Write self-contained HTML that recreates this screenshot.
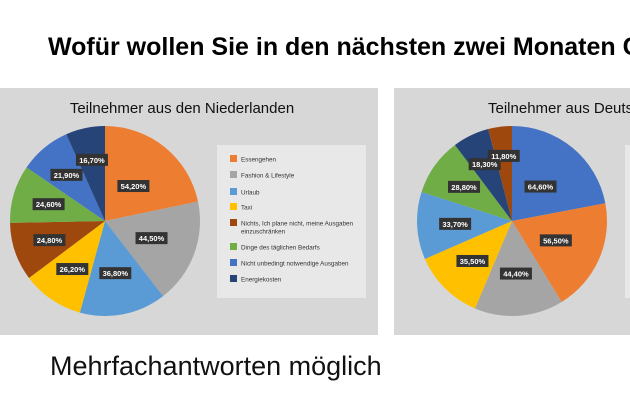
<!DOCTYPE html>
<html><head><meta charset="utf-8"><style>
body{margin:0;background:#fff;}
svg{display:block;font-family:"Liberation Sans",sans-serif;}
</style></head><body>
<svg id="s" width="630" height="412" viewBox="0 0 630 412">
<text x="48" y="55" font-size="25" font-weight="bold" fill="#000">Wofür wollen Sie in den nächsten zwei Monaten Geld ausgeben?</text>
<rect x="0" y="88" width="378" height="247" fill="#d7d7d7"/>
<rect x="394" y="88" width="240" height="247" fill="#d7d7d7"/>
<text x="182" y="113" font-size="15" text-anchor="middle" fill="#111">Teilnehmer aus den Niederlanden</text>
<text x="488" y="113" font-size="15" fill="#111">Teilnehmer aus Deutschland</text>
<rect x="217" y="145" width="149" height="153" fill="#e8e8e8"/>
<rect x="625" y="145" width="20" height="153" fill="#e8e8e8"/>
<g id="pies"></g>
<g id="leg"></g>
<text x="50" y="375" font-size="27" fill="#111">Mehrfachantworten möglich</text>
</svg>
<script>
const categoriesNL = ["Essengehen","Fashion & Lifestyle","Urlaub","Taxi","Nichts, Ich plane nicht, meine Ausgaben einzuschränken","Dinge des täglichen Bedarfs","Nicht unbedingt notwendige Ausgaben","Energiekosten"];
const valuesNL = [54.2,44.5,36.8,26.2,24.8,24.6,21.9,16.7];
const colorsNL = ["#ed7d31","#a5a5a5","#5b9bd5","#ffc000","#9e480e","#70ad47","#4472c4","#264478"];
const valuesDE = [64.6,56.5,44.4,35.5,33.7,28.8,18.3,11.8];
const colorsDE = ["#4472c4","#ed7d31","#a5a5a5","#ffc000","#5b9bd5","#70ad47","#264478","#9e480e"];
const NS="http://www.w3.org/2000/svg";
const pies=document.getElementById('pies');
function mk(t,a,p){const e=document.createElementNS(NS,t);for(const k in a)e.setAttribute(k,a[k]);(p||pies).appendChild(e);return e;}
function fmt(v){return v.toFixed(2).replace('.',',')+'%';}
function drawPie(vals,cols,cx,cy,r,name){
  const tot=vals.reduce((a,b)=>a+b,0);let a0=0;
  const labels=[];
  vals.forEach((v,i)=>{
    const a1=a0+v/tot*2*Math.PI;
    const x0=cx+r*Math.sin(a0),y0=cy-r*Math.cos(a0),x1=cx+r*Math.sin(a1),y1=cy-r*Math.cos(a1);
    const p=mk('path',{d:`M${cx},${cy}L${x0},${y0}A${r},${r} 0 ${a1-a0>Math.PI?1:0} 1 ${x1},${y1}Z`,fill:cols[i]});
    
    
    const deg=(a1-a0)*180/Math.PI;
    const f=Math.min(0.7,Math.max(0.46,0.74-0.0034*deg));
    const m=(a0+a1)/2;
    labels.push([cx+r*f*Math.sin(m),cy-r*f*Math.cos(m),v,i]);
    a0=a1;
  });
  labels.forEach(([lx,ly,v,i])=>{
    const b=mk('rect',{x:lx-16,y:ly-6,width:32,height:12,fill:'#333'});
    
    
    const t=mk('text',{x:lx,y:ly+3,'font-size':'7.5','font-weight':'bold','text-anchor':'middle',fill:'#fff'});
    t.textContent=fmt(v);
    
    
  });
}
drawPie(valuesNL,colorsNL,105,221,95,'pie-nl');
drawPie(valuesDE,colorsDE,512,221,95,'pie-de');
const leg=document.getElementById('leg');
const ly=[159,175,192,207,223,247,263,279];
categoriesNL.forEach((c,i)=>{
  const s=mk('rect',{x:230,y:ly[i]-4,width:7,height:7,fill:colorsNL[i]},leg);
  
  
  const t=mk('text',{x:241,y:ly[i]+2.5,'font-size':'6.3',fill:'#333'},leg);
  
  
  if(i===4){t.textContent='Nichts, Ich plane nicht, meine Ausgaben';
    const t2=mk('text',{x:241,y:ly[i]+10.5,'font-size':'6.3',fill:'#333'},leg);t2.textContent='einzuschränken';
    
    }
  else t.textContent=c;
});
</script>
</body></html>
